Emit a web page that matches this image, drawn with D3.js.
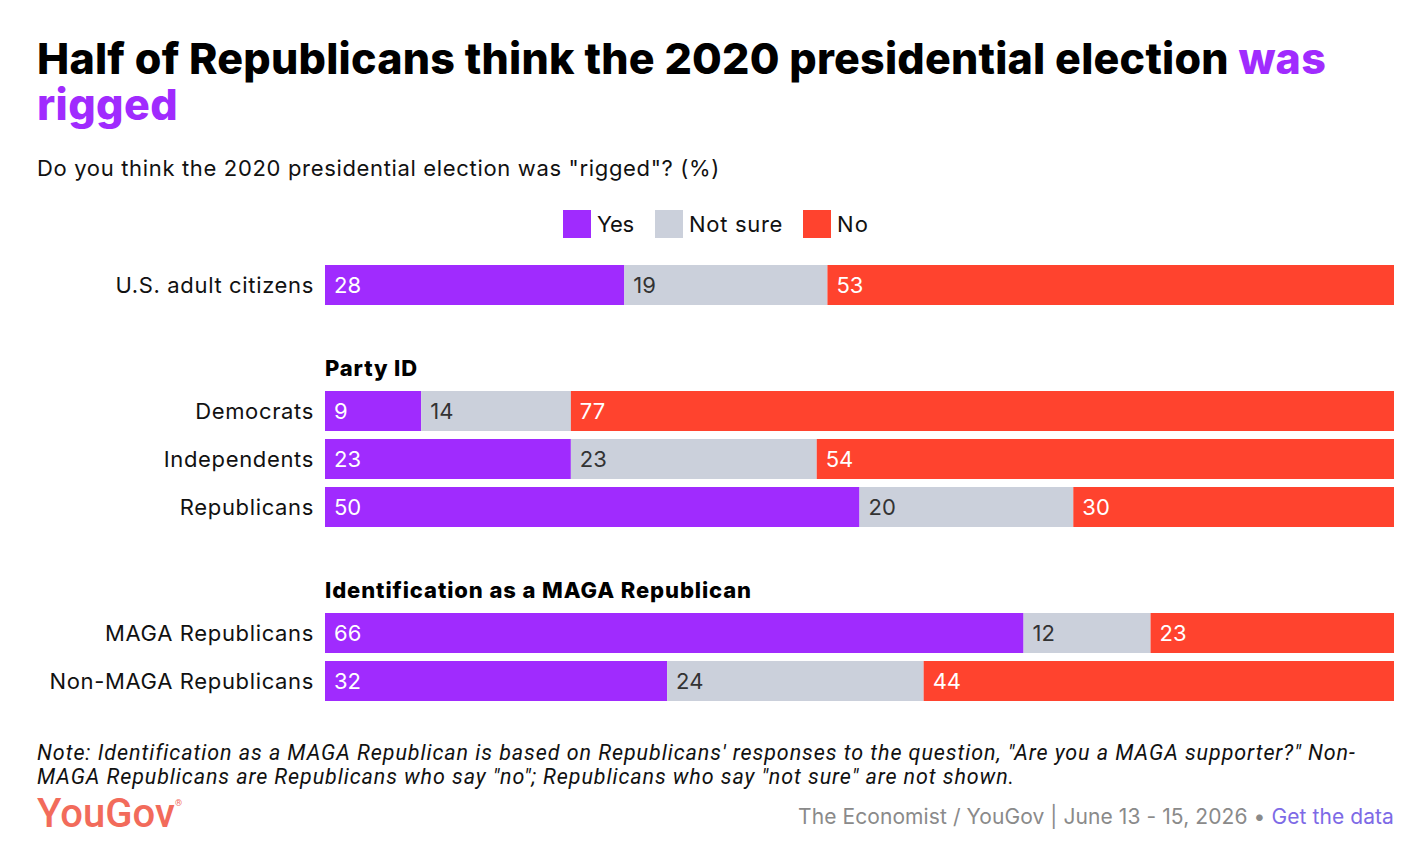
<!DOCTYPE html>
<html><head><meta charset="utf-8">
<script src="https://cdn.jsdelivr.net/npm/d3@7"></script>
<style>
body{margin:0;background:#fff;}
svg{display:block;}
</style></head>
<body>
<svg id="chart" width="1422" height="848"></svg>
<script>
const series = ["Yes", "Not sure", "No"];
const colors = ["#a02bfe", "#cbd0db", "#ff432e"];
const textColors = ["#ffffff", "#333333", "#ffffff"];
const groups = ["", "Party ID", "Identification as a MAGA Republican"];
const categories = ["U.S. adult citizens", "Democrats", "Independents", "Republicans", "MAGA Republicans", "Non-MAGA Republicans"];
const categoryGroup = [0, 1, 1, 1, 2, 2];
const yesValues = [28, 9, 23, 50, 66, 32];
const notSureValues = [19, 14, 23, 20, 12, 24];
const noValues = [53, 77, 54, 30, 23, 44];

const svg = d3.select("#chart");
const F = "Inter, 'Noto Sans', sans-serif";

// adjust letter-spacing so a text spans a given width
function fit(sel, target) {
  sel.attr("letter-spacing", 0);
  const node = sel.node();
  const w = node.getComputedTextLength();
  const n = node.textContent.length;
  sel.attr("letter-spacing", (target - w) / n);
  return sel;
}

// Title (one text element, two lines)
const title = svg.append("text").attr("x", 37).attr("y", 74)
  .attr("font-family", F).attr("font-weight", 800).attr("font-size", 43).attr("fill", "#000");
const l1a = title.append("tspan").text("Half of Republicans think the 2020 presidential election ");
const l1b = title.append("tspan").attr("fill", "#a02bfe").text("was");
const w1 = l1a.node().getComputedTextLength() + l1b.node().getComputedTextLength();
const ls1 = (1289 - w1) / (l1a.text().length + l1b.text().length);
l1a.attr("letter-spacing", ls1); l1b.attr("letter-spacing", ls1);
const l2 = title.append("tspan").attr("x", 37).attr("dy", 46).attr("fill", "#a02bfe").text("rigged");
const w2 = l2.node().getComputedTextLength();
l2.attr("letter-spacing", (141 - w2) / 6);

fit(svg.append("text").attr("x", 37).attr("y", 176).attr("font-family", F).attr("font-size", 22).attr("fill", "#111")
  .text('Do you think the 2020 presidential election was "rigged"? (%)'), 683);

// Legend
const legendX = [563, 655, 803];
const legendW = [37, 94, 32];
const lg = svg.append("g");
series.forEach((s, i) => {
  lg.append("rect").attr("x", legendX[i]).attr("y", 210).attr("width", 28).attr("height", 28).attr("fill", colors[i]);
  fit(lg.append("text").attr("x", legendX[i] + 34).attr("y", 232).attr("font-family", F).attr("font-size", 22).attr("fill", "#111").text(s), legendW[i]);
});

// Scales
const x = d3.scaleLinear().domain([0, 100]).range([325, 1394]);
const rowTop = [265, 391, 439, 487, 613, 661];
const barH = 40;
const groupHeaderY = {1: 376, 2: 598};
const groupHeaderW = {1: 93, 2: 427};

Object.keys(groupHeaderY).forEach(g => {
  fit(svg.append("text").attr("x", 325).attr("y", groupHeaderY[g]).attr("font-family", F).attr("font-weight", 800)
    .attr("font-size", 22).attr("fill", "#000").text(groups[g]), groupHeaderW[g]);
});

const data = categories.map((c, i) => {
  const vals = [yesValues[i], notSureValues[i], noValues[i]];
  const tot = d3.sum(vals);
  return {cat: c, vals, tot, top: rowTop[i]};
});

const rows = svg.selectAll("g.row").data(data).enter().append("g").attr("class", "row");
rows.append("text").attr("x", 314).attr("y", d => d.top + 28).attr("text-anchor", "end")
  .attr("font-family", F).attr("font-size", 22).attr("letter-spacing", 0.65).attr("fill", "#111").text(d => d.cat);

rows.each(function(d) {
  const g = d3.select(this);
  let cum = 0;
  d.vals.forEach((v, i) => {
    const x0 = x(cum / d.tot * 100), x1 = x((cum + v) / d.tot * 100);
    g.append("rect").attr("x", x0).attr("y", d.top).attr("width", x1 - x0).attr("height", barH).attr("fill", colors[i]);
    g.append("text").attr("x", x0 + 9).attr("y", d.top + 28).attr("font-family", F).attr("font-size", 22)
      .attr("fill", textColors[i]).text(v);
    cum += v;
  });
});

// Note
const note = svg.append("g").attr("font-family", "Roboto, sans-serif").attr("font-style", "italic").attr("font-size", 21.5).attr("fill", "#111");
fit(note.append("text").attr("x", 37).attr("y", 760).text('Note: Identification as a MAGA Republican is based on Republicans\' responses to the question, "Are you a MAGA supporter?" Non-'), 1318);
fit(note.append("text").attr("x", 37).attr("y", 784).text('MAGA Republicans are Republicans who say "no"; Republicans who say "not sure" are not shown.'), 978);

// Logo
const logo = svg.append("text").attr("x", 37).attr("y", 827).attr("font-family", "Roboto, sans-serif").attr("font-weight", 500)
  .attr("font-size", 40).attr("fill", "#f26b5b").text("YouGov");
fit(logo, 138);
svg.append("text").attr("x", 175).attr("y", 806).attr("font-family", "Roboto, sans-serif").attr("font-size", 9).attr("fill", "#f26b5b").text("®");

// Source
const src = svg.append("text").attr("x", 1394).attr("y", 824).attr("text-anchor", "end").attr("font-family", F).attr("font-size", 21);
src.append("tspan").attr("fill", "#8a8a8a").text("The Economist / YouGov | June 13 - 15, 2026 • ");
src.append("tspan").attr("fill", "#7d6ae6").text("Get the data");
fit(src, 596);
</script>
</body></html>
